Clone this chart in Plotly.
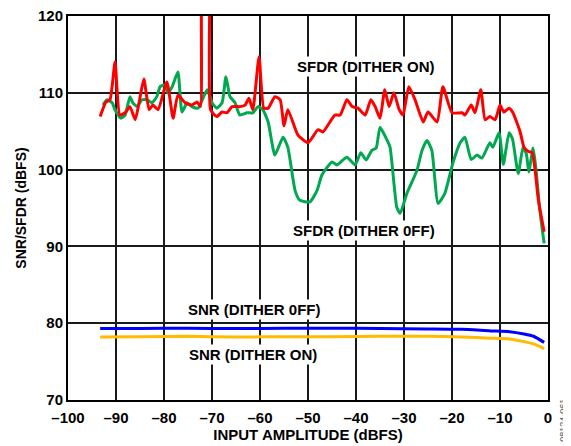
import plotly.graph_objects as go

# SFDR, dither on (red)
sfdr_on_x = [-93.3, -92.1, -91.25, -90.2, -89.2, -88.1, -87.1, -86.0, -85.2, -84.2,
             -83.1, -82.3, -81.25, -79.4, -78.1, -77.1, -75.6, -74.2, -73.1, -72.4,
             -71.8, -70.8, -70.3, -69.0, -67.9, -66.9, -65.8, -64.2, -63.1, -62.3,
             -61.5, -60.2, -59.2, -58.3, -56.9, -55.8, -55.0, -54.2, -52.1, -50.0,
             -47.9, -46.9, -44.4, -43.3, -41.9, -40.8, -39.6, -38.1, -36.9, -36.0,
             -35.0, -34.0, -33.1, -32.1, -31.0, -30.2, -29.0, -27.7, -26.0, -25.0,
             -23.1, -21.9, -20.0, -17.9, -17.3, -16.0, -15.2, -14.0, -13.1, -12.1,
             -11.0, -10.0, -9.2, -8.1, -7.3, -5.8, -5.0, -4.2, -3.3, -2.7,
             -2.0, -0.8]
sfdr_on_y = [106.9, 108.8, 109.1, 114.0, 107.1, 107.4, 108.2, 106.5, 108.7, 111.8,
             107.8, 108.4, 107.8, 111.4, 106.7, 109.7, 108.7, 108.4, 108.8, 108.2,
             130.0, 130.0, 107.8, 106.9, 107.5, 107.4, 108.2, 108.2, 108.4, 109.3,
             107.8, 114.7, 108.0, 108.0, 109.5, 109.1, 105.7, 107.8, 104.5, 103.5,
             105.2, 104.9, 107.1, 107.1, 109.1, 108.2, 108.0, 107.1, 109.1, 108.2,
             106.7, 110.4, 108.2, 110.0, 107.8, 107.1, 110.8, 109.1, 106.2, 107.5,
             106.2, 110.8, 107.4, 107.4, 107.1, 108.4, 107.4, 110.4, 106.5, 106.9,
             106.5, 108.4, 107.5, 108.0, 107.4, 104.9, 102.9, 102.4, 102.2, 100.0,
             96.0, 91.9]

# SFDR, dither off (green)
sfdr_off_x = [-92.7, -91.9, -90.8, -90.2, -89.0, -88.1, -87.1, -86.5, -85.6, -84.6,
              -83.5, -82.5, -81.5, -80.8, -79.8, -79.2, -78.3, -77.1, -76.25, -75.2,
              -74.2, -72.9, -71.0, -70.0, -69.0, -67.9, -67.1, -66.25, -65.2, -64.2,
              -62.7, -61.5, -60.4, -59.4, -58.3, -56.9, -55.2, -54.2, -52.7, -51.7,
              -49.6, -48.1, -47.1, -45.0, -44.0, -41.9, -40.2, -39.0, -37.9, -36.7,
              -35.8, -35.0, -33.5, -32.9, -31.5, -30.8, -29.4, -27.3, -26.25, -25.2,
              -24.2, -22.9, -21.5, -19.8, -18.3, -17.3, -16.0, -14.8, -13.75, -12.1,
              -11.5, -10.2, -9.3, -8.1, -7.4, -6.2, -5.2, -4.5, -4.0, -3.1,
              -2.5, -1.7, -0.8]
sfdr_off_y = [108.4, 109.1, 108.7, 107.8, 106.7, 107.1, 109.5, 108.7, 108.2, 109.1,
              109.1, 108.7, 109.5, 110.8, 111.0, 110.0, 110.8, 112.7, 107.5, 108.7,
              108.2, 108.0, 110.4, 108.7, 108.0, 108.7, 112.1, 109.5, 108.7, 107.1,
              107.4, 107.4, 108.2, 107.8, 106.2, 101.9, 104.2, 102.9, 97.3, 96.0,
              95.8, 97.3, 99.3, 101.0, 100.6, 101.6, 100.6, 102.2, 101.25, 102.5,
              102.8, 105.5, 103.8, 102.9, 95.1, 94.3, 96.9, 99.9, 102.5, 103.8,
              102.5, 95.6, 96.9, 100.9, 103.5, 104.2, 101.3, 101.9, 101.5, 103.5,
              102.9, 104.8, 100.7, 104.8, 104.0, 99.5, 102.9, 102.0, 99.7, 102.8,
              100.0, 94.7, 90.4]

# SNR curves
snr_x = [-93.3, -85, -75, -65, -55, -45, -35, -25, -18, -12, -8, -5, -3, -0.8]
snr_off_y = [79.3, 79.3, 79.35, 79.3, 79.35, 79.35, 79.3, 79.25, 79.2, 79.0, 78.9, 78.6, 78.3, 77.5]
snr_on_y = [78.2, 78.25, 78.3, 78.2, 78.25, 78.25, 78.3, 78.3, 78.2, 78.05, 77.95, 77.6, 77.3, 76.7]

x_ticks = list(range(-100, 1, 10))
y_ticks = list(range(70, 121, 10))

FONT = "Liberation Sans, Arial, sans-serif"
lw = 3

fig = go.Figure()
fig.add_trace(go.Scatter(x=sfdr_off_x, y=sfdr_off_y, mode="lines", name="SFDR (DITHER 0FF)",
                         line=dict(color="#00a84f", width=lw, shape="spline", smoothing=0.5)))
fig.add_trace(go.Scatter(x=sfdr_on_x, y=sfdr_on_y, mode="lines", name="SFDR (DITHER ON)",
                         line=dict(color="#ff0000", width=lw, shape="spline", smoothing=0.5)))
fig.add_trace(go.Scatter(x=snr_x, y=snr_on_y, mode="lines", name="SNR (DITHER ON)",
                         line=dict(color="#ffbb00", width=lw, shape="spline", smoothing=0.5)))
fig.add_trace(go.Scatter(x=snr_x, y=snr_off_y, mode="lines", name="SNR (DITHER 0FF)",
                         line=dict(color="#0000ff", width=lw, shape="spline", smoothing=0.5)))

labels = [
    ("SFDR (DITHER ON)", -38.0, 113.4),
    ("SFDR (DITHER 0FF)", -38.3, 92.1),
    ("SNR (DITHER 0FF)", -61.1, 81.8),
    ("SNR (DITHER ON)", -61.4, 75.9),
]
for txt, ax_, ay_ in labels:
    fig.add_annotation(x=ax_, y=ay_, text=txt, showarrow=False, bgcolor="white",
                       font=dict(family=FONT, size=15, color="black", weight="bold"),
                       borderpad=1)

fig.add_annotation(xref="paper", yref="paper", x=1.031, y=-0.052, text="08124-061",
                   xanchor="center", yanchor="middle",
                   showarrow=False, textangle=-90,
                   font=dict(family=FONT, size=9, color="#555555"))

# page body has an 8px margin, so the figure is sized/offset to compensate
fig.update_layout(
    width=563, height=438,
    margin=dict(l=60, r=23, t=8, b=46),
    plot_bgcolor="white", paper_bgcolor="white",
    showlegend=False,
    font=dict(family=FONT, color="black"),
)
fig.update_xaxes(
    range=[-100, 0], tickvals=x_ticks, ticktext=[str(v).replace("-", "\u2013") for v in x_ticks],
    showgrid=True, gridcolor="#1a1a1a", gridwidth=1.5,
    showline=True, linecolor="black", linewidth=2, mirror=True,
    zeroline=False, ticks="", ticklabelstandoff=3, automargin=False,
    ticklabeloverflow="allow",
    tickfont=dict(family=FONT, size=15, weight="bold"),
    title=dict(text="INPUT AMPLITUDE (dBFS)", standoff=4,
               font=dict(family=FONT, size=15, weight="bold")),
)
fig.update_yaxes(
    range=[70, 120], tickvals=y_ticks,
    showgrid=True, gridcolor="#1a1a1a", gridwidth=1.5,
    showline=True, linecolor="black", linewidth=2, mirror=True,
    zeroline=False, ticks="", ticklabelstandoff=0, automargin=False,
    ticklabeloverflow="allow",
    tickfont=dict(family=FONT, size=15, weight="bold"),
    title=dict(text="SNR/SFDR (dBFS)", standoff=8,
               font=dict(family=FONT, size=14, weight="bold")),
)

fig.write_html("out.html")
